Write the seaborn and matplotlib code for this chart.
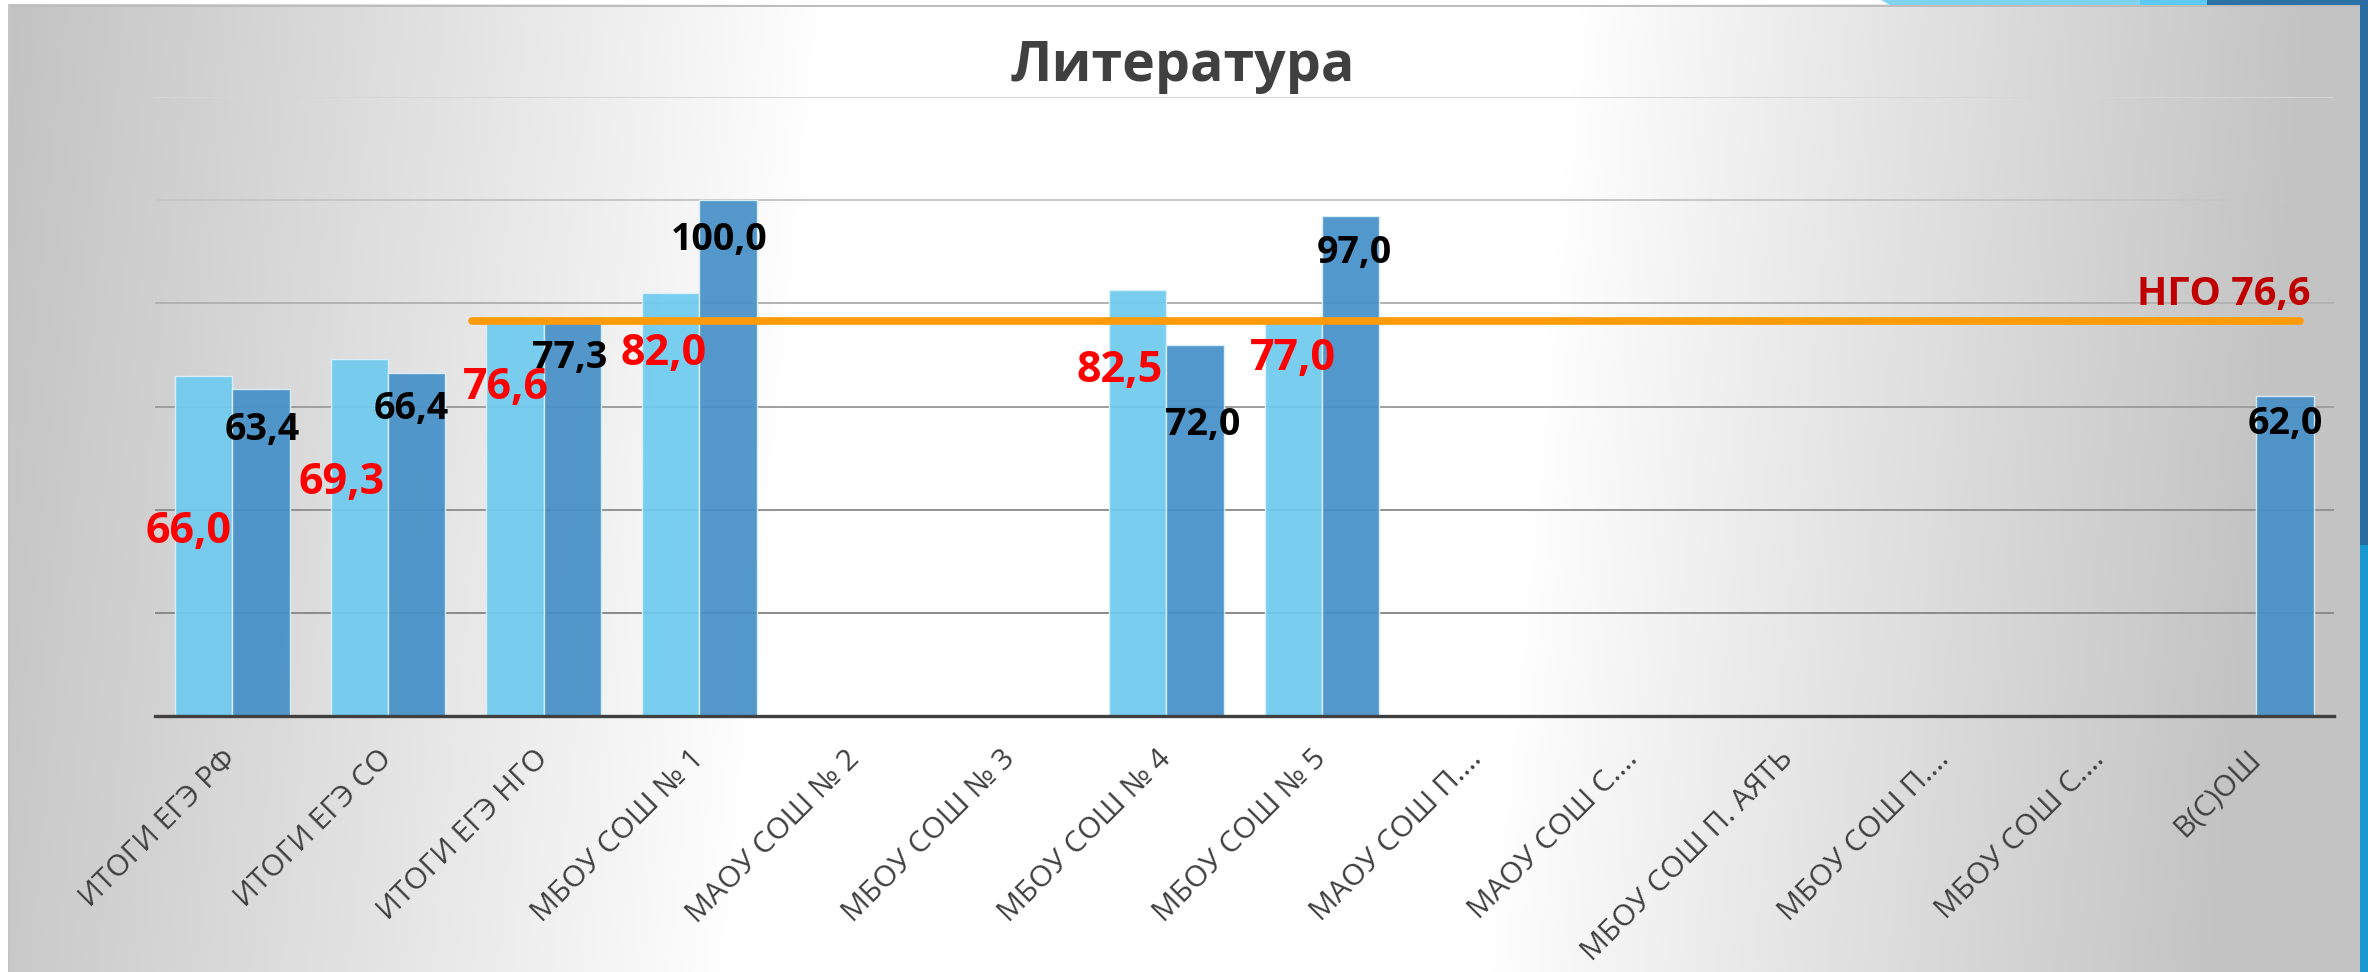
import numpy as np
import pandas as pd
import matplotlib
matplotlib.use("Agg")
import matplotlib.pyplot as plt
import matplotlib.transforms as mtransforms
from matplotlib.patches import Rectangle, Polygon
import seaborn as sns

# ---------------- data ----------------
title = "Литература"
categories = [
    "ИТОГИ ЕГЭ РФ", "ИТОГИ ЕГЭ СО", "ИТОГИ ЕГЭ НГО", "МБОУ СОШ № 1",
    "МАОУ СОШ № 2", "МБОУ СОШ № 3", "МБОУ СОШ № 4", "МБОУ СОШ № 5",
    "МАОУ СОШ П.…", "МАОУ СОШ С.…", "МБОУ СОШ П. АЯТЬ", "МБОУ СОШ П.…",
    "МБОУ СОШ С.…", "В(С)ОШ",
]
series_names = ["Ряд1", "Ряд2"]
nan = np.nan
values_1 = [66.0, 69.3, 76.6, 82.0, nan, nan, 82.5, 77.0, nan, nan, nan, nan, nan, nan]
values_2 = [63.4, 66.4, 77.3, 100.0, nan, nan, 72.0, 97.0, nan, nan, nan, nan, nan, 62.0]
ngo_value = 76.6
ngo_label = "НГО 76,6"
y_ticks = [20, 40, 60, 80, 100, 120]

# label offsets (pixels: dx right, dy down from bar top)
offsets_1 = [(-15, 153), (-18, 121), (-9, 64), (-7, 57), None, None, (-18, 77), (-1, 37),
             None, None, None, None, None, None]
offsets_2 = [(1, 38), (-5, 33), (-3, 38), (-9, 37), None, None, (8, 77), (4, 34),
             None, None, None, None, None, (0, 25)]

# ---------------- styling ----------------
plt.rcParams['font.family'] = ['Open Sans', 'DejaVu Sans']
W, H = 2368, 972
fig = plt.figure(figsize=(W / 100, H / 100), dpi=100)
fig.patch.set_facecolor('white')

# background gradient + slide decorations
bg = fig.add_axes([0, 0, 1, 1], zorder=-10)
bg.set_xlim(0, W)
bg.set_ylim(H, 0)
bg.axis('off')
gy, gx = np.mgrid[0:H:4, 0:W:4].astype(float)
center = 1195 - 0.1 * (gy - 60)
half = 380
dist = np.abs(gx - center) - half
ramp = np.where(gx < center, 820.0, 740.0)
d = np.clip(dist / ramp, 0, 1)
val = 1 - 0.235 * d ** 0.95
img = np.dstack([val, val, val])
bg.imshow(img, extent=[8, 2360, H, 5], interpolation='bilinear', aspect='auto')
bg.add_patch(Rectangle((8, 5), 2352, 2.5, color='#bdbdbd', lw=0))
bg.add_patch(Rectangle((8, 5), 1.5, H, color='#c4c4c4', lw=0))
bg.add_patch(Polygon([(1881, 0), (2140, 0), (2140, 5), (1890, 5)], color='#80d3f0', lw=0))
bg.add_patch(Rectangle((2140, 0), 67, 5, color='#5ec9ef', lw=0))
bg.add_patch(Rectangle((2207, 0), 161, 5, color='#2b72a6', lw=0))
bg.add_patch(Rectangle((2360, 0), 8, 560, color='#2a6ca0', lw=0))
bg.add_patch(Rectangle((2360, 545), 8, H - 545, color='#1a98d2', lw=0))

# main axes
left, right, bottom_px, top_px = 154.5, 2334, 716, 97
ax = fig.add_axes([left / W, 1 - bottom_px / H, (right - left) / W, (bottom_px - top_px) / H])
ax.patch.set_alpha(0)

df = pd.DataFrame({
    'category': categories * 2,
    'series': [series_names[0]] * len(categories) + [series_names[1]] * len(categories),
    'value': values_1 + values_2,
})
light, dark = '#6FCBEF', '#4690C8'
sns.barplot(data=df, x='category', y='value', hue='series', order=categories,
            hue_order=series_names, palette=[light, dark], width=0.737,
            saturation=1, errorbar=None, legend=False, ax=ax,
            alpha=0.93, edgecolor='#dcf0fa', linewidth=1.0)

ax.set_xlim(-0.5, len(categories) - 0.5)
ax.set_ylim(0, 120)
ax.set_xlabel('')
ax.set_ylabel('')
ax.set_yticks([])
for s in ['left', 'right', 'top']:
    ax.spines[s].set_visible(False)
ax.spines['bottom'].set_color('#404040')
ax.spines['bottom'].set_linewidth(2.4)
ax.spines['bottom'].set_zorder(4)

grid_colors = ['#8a8a8a', '#929292', '#9e9e9e', '#b2b2b2', '#c6c6c6', '#d6d6d6']
for v, c in zip(y_ticks, grid_colors):
    ax.axhline(v, color=c, lw=1.4, zorder=0.5)

ax.tick_params(axis='x', length=0, pad=28, labelsize=21.5, labelcolor='#404040')
for lbl in ax.get_xticklabels():
    lbl.set_rotation(45)
    lbl.set_ha('right')
    lbl.set_va('center')
    lbl.set_rotation_mode('anchor')

# data labels
def fmt(v):
    return f"{v:.1f}".replace('.', ',')

label_styles = [dict(color='#FF0000', fontsize=31), dict(color='#000000', fontsize=27)]
all_offsets = [offsets_1, offsets_2]
for cont, offs, style in zip(ax.containers, all_offsets, label_styles):
    for p in cont.patches:
        h = p.get_height()
        if h is None or np.isnan(h) or h == 0:
            continue
        cx = p.get_x() + p.get_width() / 2
        idx = int(round(cx))
        off = offs[idx]
        if off is None:
            continue
        ax.annotate(fmt(h), xy=(cx, h), xytext=(off[0], -off[1] - 3), textcoords='offset pixels',
                    ha='center', va='center', fontweight='bold', zorder=6, **style)

# NGO average line
blend = mtransforms.blended_transform_factory(ax.transAxes, ax.transData)
ax.plot([0.1457, 0.9844], [ngo_value, ngo_value], transform=blend, color='#FF9A0A',
        lw=5.5, solid_capstyle='round', zorder=5)
ax.annotate(ngo_label, xy=(0.9894, ngo_value), xycoords=blend, xytext=(0, 26),
            textcoords='offset pixels', ha='right', va='center', color='#C00000',
            fontsize=28.5, fontweight='bold', zorder=6)

fig.text(1183 / W, 1 - 66 / H, title, ha='center', va='center', fontsize=40,
         fontweight='bold', color='#404040')

fig.savefig('out.png', dpi=100)
